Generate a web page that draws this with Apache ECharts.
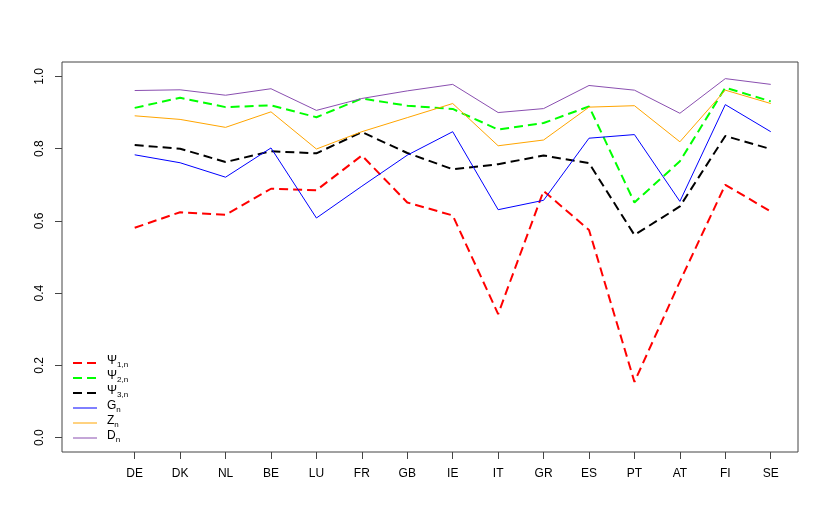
<!DOCTYPE html>
<html>
<head>
<meta charset="utf-8">
<script src="https://cdn.jsdelivr.net/npm/echarts@6/dist/echarts.min.js"></script>
<style>
  html, body { margin: 0; padding: 0; background: #fff; }
  #chart { width: 830px; height: 529px; }
</style>
</head>
<body>
<div id="chart"></div>
<script>
// countries along the x axis (positions 1..15)
const countries = ["DE", "DK", "NL", "BE", "LU", "FR", "GB", "IE", "IT", "GR", "ES", "PT", "AT", "FI", "SE"];
const yTicks = [0, 0.2, 0.4, 0.6, 0.8, 1.0];

const psi1 = [0.581, 0.624, 0.617, 0.689, 0.685, 0.781, 0.651, 0.615, 0.342, 0.683, 0.575, 0.154, 0.432, 0.700, 0.626];
const psi2 = [0.913, 0.941, 0.915, 0.920, 0.887, 0.939, 0.919, 0.910, 0.853, 0.871, 0.917, 0.651, 0.765, 0.969, 0.931];
const psi3 = [0.810, 0.800, 0.763, 0.793, 0.787, 0.846, 0.788, 0.743, 0.757, 0.781, 0.760, 0.561, 0.640, 0.835, 0.799];
const gn = [0.783, 0.761, 0.721, 0.802, 0.608, 0.696, 0.782, 0.847, 0.631, 0.657, 0.829, 0.839, 0.654, 0.922, 0.847];
const zn = [0.891, 0.881, 0.859, 0.902, 0.799, 0.847, 0.886, 0.925, 0.808, 0.824, 0.915, 0.919, 0.819, 0.962, 0.925];
const dn = [0.961, 0.963, 0.948, 0.966, 0.906, 0.939, 0.960, 0.978, 0.900, 0.911, 0.975, 0.962, 0.898, 0.994, 0.978];

const seriesNames = ["Ψ1,n", "Ψ2,n", "Ψ3,n", "Gn", "Zn", "Dn"];
const seriesData = [psi1, psi2, psi3, gn, zn, dn];
const seriesColors = ["#ff0000", "#00ff00", "#000000", "#0000ff", "#ffa500", "#8a4fb0"];
const dashed = [true, true, true, false, false, false];

(function () {
  const myChart = echarts.init(document.getElementById("chart"));
  const font = "'Liberation Sans', Arial, sans-serif";

  const series = seriesNames.map(function (name, i) {
    return {
      name: name,
      type: "line",
      symbol: "none",
      animation: false,
      data: seriesData[i].map(function (v, j) { return [j + 1, v]; }),
      lineStyle: {
        color: seriesColors[i],
        width: dashed[i] ? 2 : 1,
        type: dashed[i] ? [9, 5] : "solid",
      },
      itemStyle: { color: seriesColors[i] },
    };
  });

  const option = {
    backgroundColor: "#fff",
    textStyle: { fontFamily: font },
    grid: {
      left: 62,
      right: 32,
      top: 62,
      bottom: 77,
      show: true,
      borderColor: "#444",
      borderWidth: 1,
      backgroundColor: "transparent",
    },
    legend: {
      orient: "vertical",
      left: 72,
      top: 355,
      padding: 0,
      itemWidth: 24,
      itemHeight: 12,
      itemGap: 1,
      data: seriesNames,
      lineStyle: { width: "inherit" },
      itemStyle: { opacity: 0 },
      formatter: function (name) {
        return "{b|" + name.charAt(0) + "}{s|" + name.slice(1) + "}";
      },
      textStyle: {
        padding: [0, 0, 0, 5],
        rich: {
          b: { fontSize: 12, lineHeight: 12, color: "#000", fontFamily: font, verticalAlign: "bottom", padding: [0, 0, 2, 0] },
          s: { fontSize: 8, lineHeight: 8, color: "#000", fontFamily: font, verticalAlign: "bottom" },
        },
      },
    },
    xAxis: {
      type: "value",
      min: -0.6,
      max: 15.6,
      splitLine: { show: false },
      axisLine: { show: false, onZero: false },
      axisTick: {
        show: true,
        length: 7,
        customValues: countries.map(function (c, i) { return i + 1; }),
        lineStyle: { color: "#444" },
      },
      axisLabel: {
        customValues: countries.map(function (c, i) { return i + 1; }),
        formatter: function (v) { return countries[Math.round(v) - 1] || ""; },
        fontSize: 12,
        color: "#000",
        margin: 16,
        fontFamily: font,
      },
    },
    yAxis: {
      type: "value",
      min: -0.04,
      max: 1.04,
      splitLine: { show: false },
      axisLine: { show: false, onZero: false },
      axisTick: {
        show: true,
        length: 7,
        customValues: yTicks,
        lineStyle: { color: "#444" },
      },
      axisLabel: {
        customValues: yTicks,
        formatter: function (v) { return v.toFixed(1); },
        rotate: 90,
        fontSize: 12,
        color: "#000",
        margin: 16,
        fontFamily: font,
      },
    },
    series: series,
  };

  myChart.setOption(option);

  window.addEventListener("resize", function () {
    myChart.resize();
  });
})();
</script>
</body>
</html>
